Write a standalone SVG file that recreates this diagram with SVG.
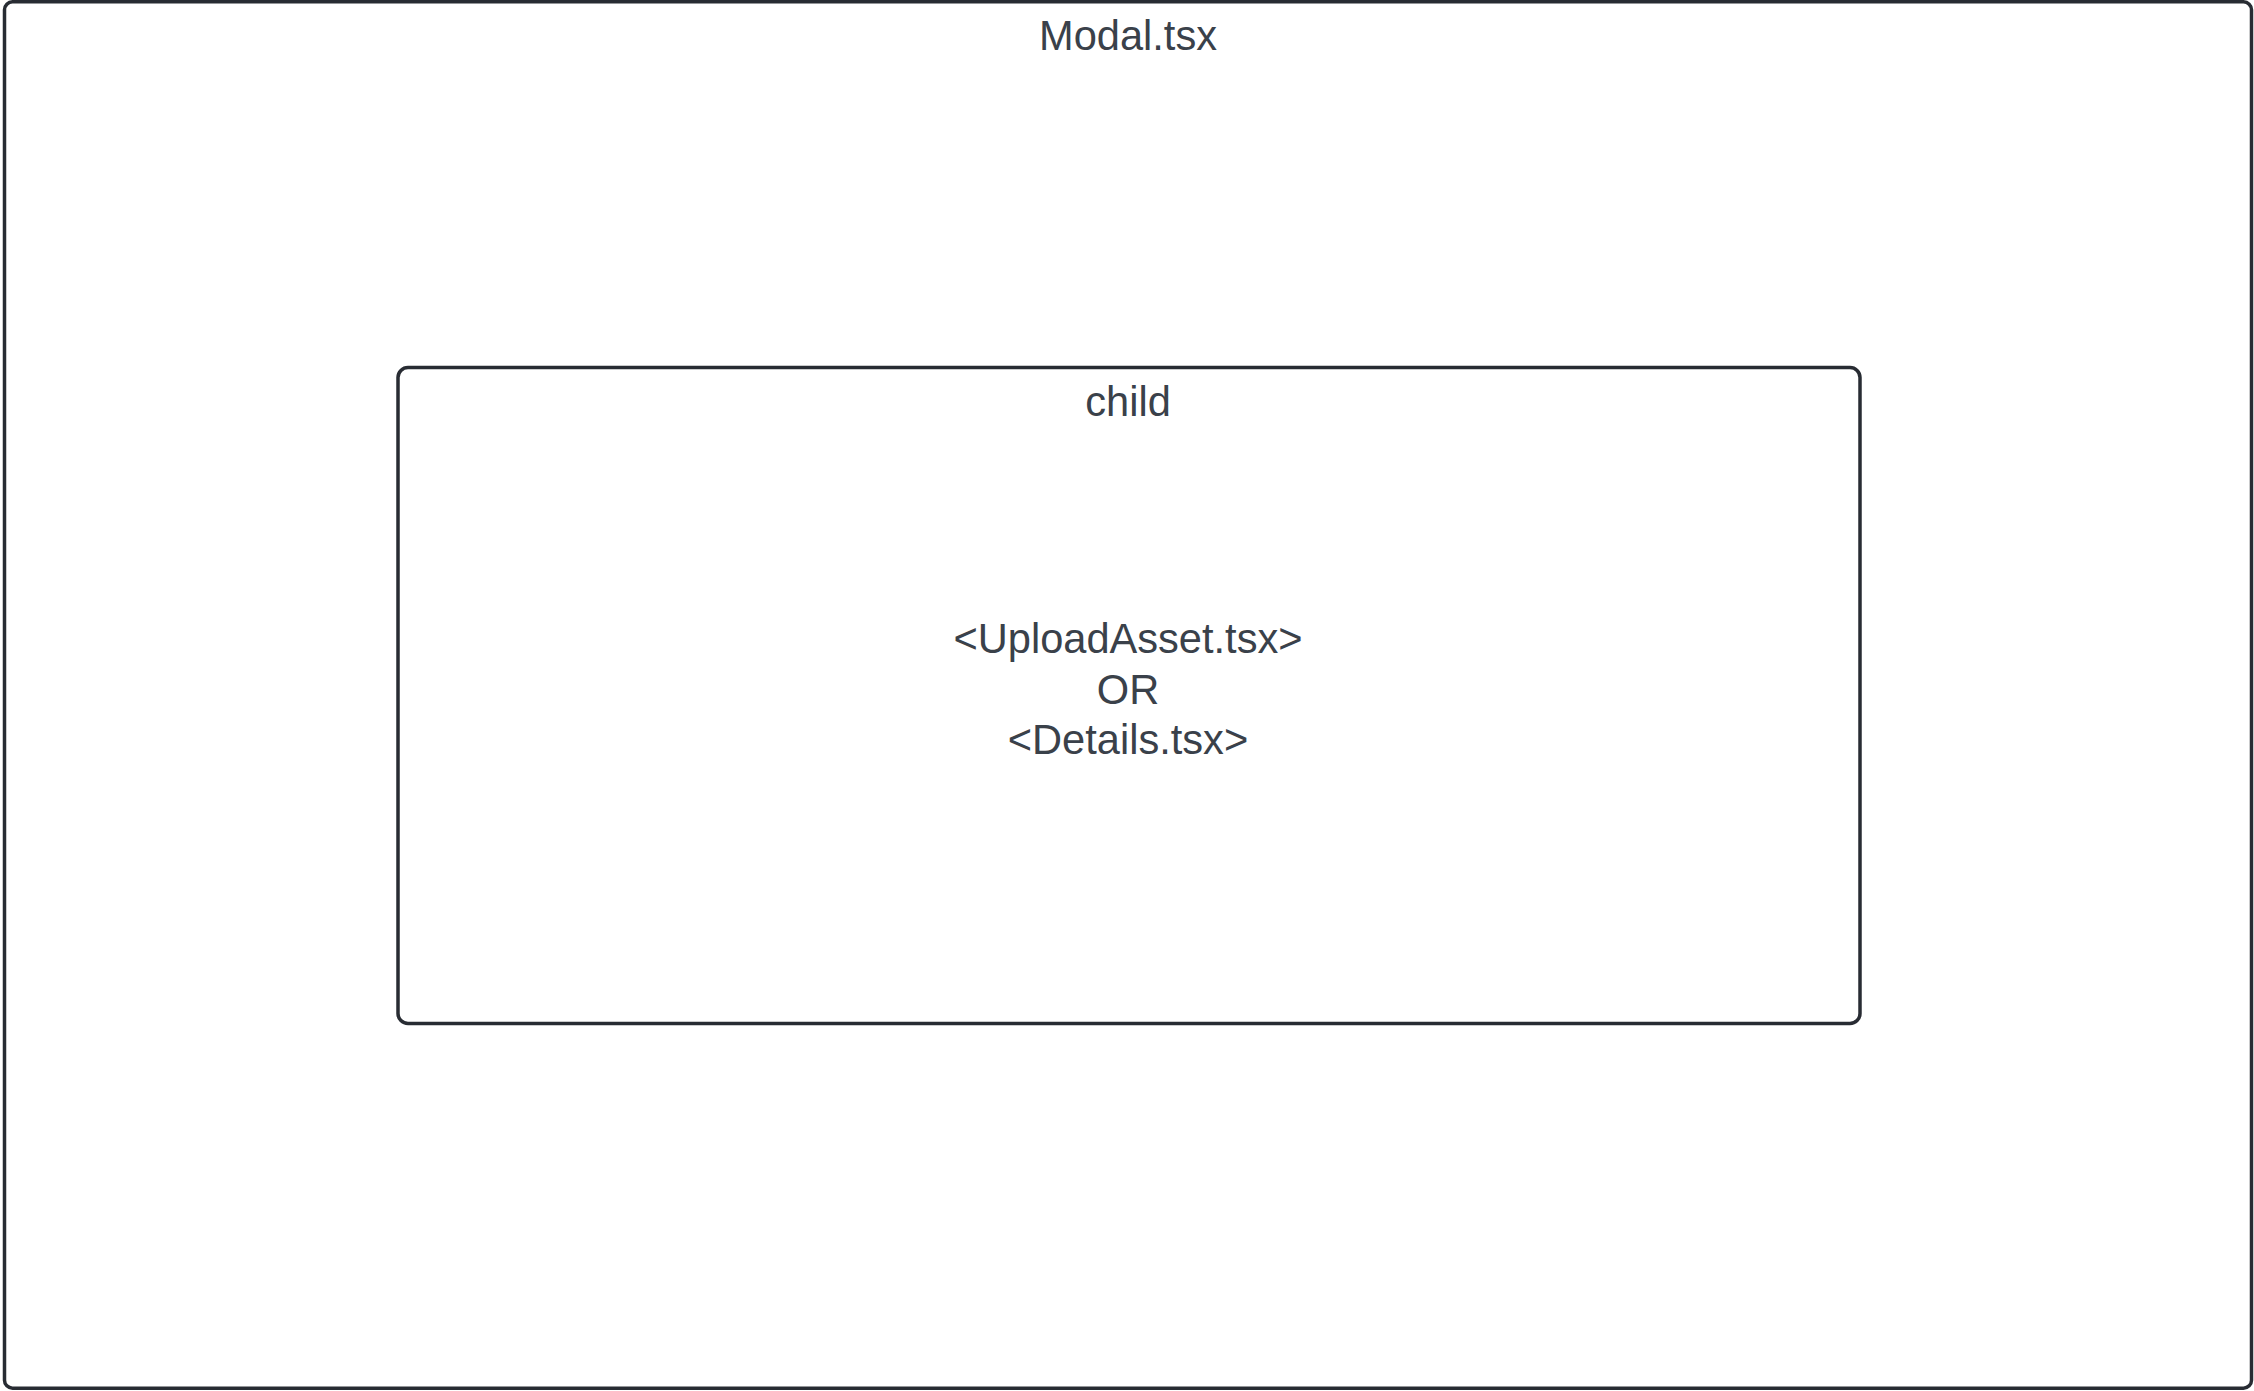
<svg xmlns="http://www.w3.org/2000/svg" width="2254" height="1391" viewBox="0 0 2254 1391">
<style>
.box{fill:#ffffff;stroke:#282c33;stroke-width:3.5}
.t{font-family:"Liberation Sans",Arial,sans-serif;font-size:41.6px;fill:#3a414a;text-anchor:middle}
</style>
<rect width="2254" height="1391" fill="#ffffff"/>
<g id="modal">
<rect class="box" x="4.5" y="1.8" width="2247" height="1386.4" rx="8"/>
<text class="t" x="1128" y="50">Modal.tsx</text>
</g>
<g id="child">
<rect class="box" x="398" y="367.5" width="1462" height="656" rx="10"/>
<text class="t" x="1128" y="416">child</text>
<text class="t" x="1128" y="653">&lt;UploadAsset.tsx&gt;</text>
<text class="t" x="1128" y="704">OR</text>
<text class="t" x="1128" y="754">&lt;Details.tsx&gt;</text>
</g>
<g id="connectors"/>
</svg>
